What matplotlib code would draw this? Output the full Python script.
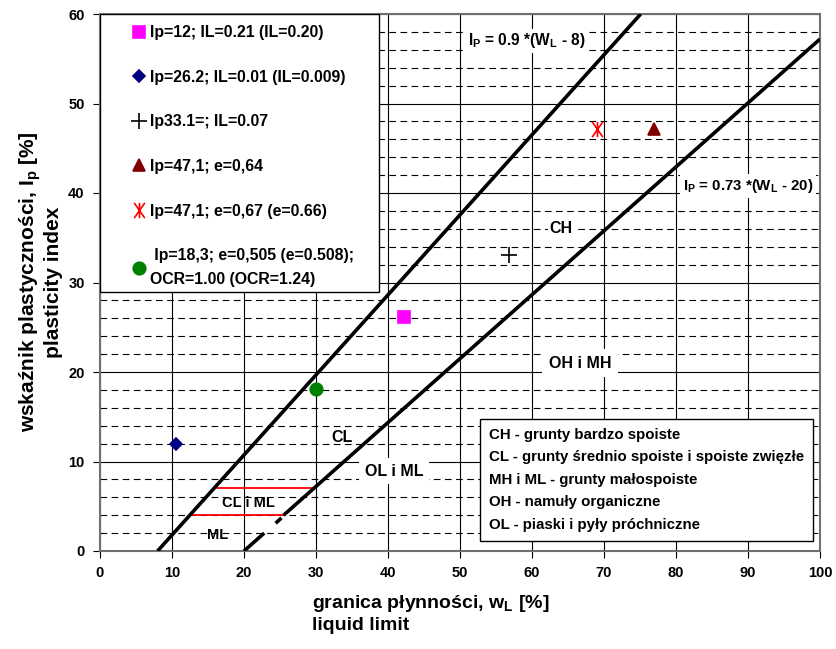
import matplotlib
matplotlib.use("Agg")
import matplotlib.pyplot as plt
from matplotlib.patches import Rectangle
from matplotlib.path import Path
from matplotlib.ticker import MultipleLocator

plt.rcParams['font.family'] = ['Liberation Sans', 'DejaVu Sans']
plt.rcParams['font.weight'] = 'bold'
plt.rcParams['mathtext.fontset'] = 'custom'
plt.rcParams['mathtext.bf'] = 'Liberation Sans:bold'
plt.rcParams['mathtext.rm'] = 'Liberation Sans:bold'
plt.rcParams['mathtext.default'] = 'bf'

# X with a vertical stroke, like the Excel asterisk marker
star = Path([(0, -1), (0, 1), (-0.7, -1), (0.7, 1), (-0.7, 1), (0.7, -1)],
            [Path.MOVETO, Path.LINETO] * 3)

# soil samples (liquid limit wL, plasticity index Ip)
samples = [
    ("Ip=12; IL=0.21 (IL=0.20)", 42.2, 26.2, 's', '#ff00ff', 8),
    ("Ip=26.2; IL=0.01 (IL=0.009)", 10.5, 12.0, 'D', '#000080', 6.5),
    ("Ip33.1=; IL=0.07", 56.8, 33.1, '+', 'black', 12),
    ("Ip=47,1; e=0,64", 77.0, 47.1, '^', '#800000', 9),
    ("Ip=47,1; e=0,67 (e=0.66)", 69.0, 47.1, star, 'red', 11),
    (" Ip=18,3; e=0,505 (e=0.508);\nOCR=1.00 (OCR=1.24)", 30.0, 18.1, 'o', '#008000', 9),
]

# boundary lines
line1_wl = [8.0, 75.1]
line1_ip = [0.0, 60.0]
line2_wl = [25.5, 100.0]
line2_ip = [4.0, 57.2]
line2_low_wl = [[20.0, 22.8], [24.4, 25.2]]
line2_low_ip = [[0.0, 2.0], [3.1, 3.7]]
red_ip = [4, 7]
red_wl = [[12.5, 25.5], [15.8, 29.4]]

classes = ["CH - grunty bardzo spoiste",
           "CL - grunty średnio spoiste i spoiste zwięzłe",
           "MH i ML - grunty małospoiste",
           "OH - namuły organiczne",
           "OL - piaski i pyły próchniczne"]

fig = plt.figure(figsize=(8.37, 6.49), dpi=100)
ax = fig.add_axes([100/837, 1 - 551/649, 720/837, 537/649])
ax.set_xlim(0, 100)
ax.set_ylim(0, 60)

ax.xaxis.set_major_locator(MultipleLocator(10))
ax.yaxis.set_major_locator(MultipleLocator(10))
ax.yaxis.set_minor_locator(MultipleLocator(2))
ax.grid(which='major', color='black', lw=0.8, zorder=0)
ax.grid(which='minor', axis='y', color='black', lw=0.8, ls=(0, (6, 4)), zorder=0)
ax.set_axisbelow(True)
ax.tick_params(which='major', direction='out', length=5, labelsize=10.5, pad=6)
ax.tick_params(which='minor', length=0)
for t in ax.get_xticklabels() + ax.get_yticklabels():
    t.set_fontweight('bold')
for s in ax.spines.values():
    s.set_color('#707070')
    s.set_linewidth(1.5)

ax.plot(line1_wl, line1_ip, color='black', lw=2.6, solid_capstyle='butt', zorder=3)
ax.plot(line2_wl, line2_ip, color='black', lw=2.6, solid_capstyle='butt', zorder=3)
for sw, si in zip(line2_low_wl, line2_low_ip):
    ax.plot(sw, si, color='black', lw=2.6, solid_capstyle='butt', zorder=3)
for ip, wl in zip(red_ip, red_wl):
    ax.plot(wl, [ip, ip], color='red', lw=1.3, zorder=2)

for lab, x, y, m, c, ms in samples:
    ax.plot([x], [y], ls='none', marker=m, color=c, ms=ms, mew=1.2, label=lab, zorder=4)

# legend box
ax.add_patch(Rectangle((0.0, 0.482), 0.3875, 0.518, transform=ax.transAxes,
                       facecolor='white', edgecolor='black', lw=1.0, zorder=5))
leg = ax.legend(loc='upper left', bbox_to_anchor=(0.03, 1.0), frameon=False,
                borderaxespad=0, borderpad=0.7, handlelength=0.8, handletextpad=0.3,
                labelspacing=1.87, prop={'size': 11.4, 'weight': 'bold'})
for t in leg.get_texts():
    t.set_linespacing(1.75)
leg.set_zorder(6)

wb = dict(facecolor='white', edgecolor='none', pad=2)
ax.text(59.3, 57, r"I$_P$ = 0.9 *(W$_L$ - 8)", fontsize=11.2, fontweight='bold',
        ha='center', va='center', bbox=wb, zorder=4)
ax.text(90, 40.8, r"I$_P$ = 0.73 *(W$_L$ - 20)", fontsize=10.8, fontweight='bold',
        ha='center', va='center', bbox=wb, zorder=4)
ax.text(64.0, 36.0, "CH", fontsize=11.5, fontweight='bold', ha='center', va='center',
        bbox=dict(facecolor='white', edgecolor='none', pad=1), zorder=4)
ax.text(66.7, 21.0, "OH i MH", fontsize=11.5, fontweight='bold', ha='center', va='center',
        bbox=dict(facecolor='white', edgecolor='none', pad=5), zorder=4)
ax.text(33.6, 12.7, "CL", fontsize=11.5, fontweight='bold', ha='center', va='center', zorder=4)
ax.text(40.8, 8.9, "OL i ML", fontsize=11.5, fontweight='bold', ha='center', va='center',
        bbox=dict(facecolor='white', edgecolor='none', pad=4), zorder=4)
ax.text(20.6, 5.5, "CL i ML", fontsize=10.5, fontweight='bold', ha='center', va='center_baseline', zorder=4)
ax.text(16.4, 1.9, "ML", fontsize=10.5, fontweight='bold', ha='center', va='center_baseline', zorder=4)

ax.text(54.0, 13.75, "\n".join(classes), fontsize=10.8, fontweight='bold',
        ha='left', va='top', linespacing=1.77,
        bbox=dict(facecolor='white', edgecolor='black', lw=1.0, pad=6.5), zorder=6)

fig.text(312/837, 1 - 593/649, "granica płynności, w$_L$ [%]\nliquid limit", fontsize=14,
         fontweight='bold', ha='left', va='top', linespacing=1.2)
fig.text(40/837, 1 - 282/649, "wskaźnik plastyczności, I$_p$ [%]\nplasticity index", fontsize=15,
         fontweight='bold', rotation=90, ha='center', va='center', multialignment='center',
         linespacing=1.05)

fig.savefig("out.png", dpi=100)
